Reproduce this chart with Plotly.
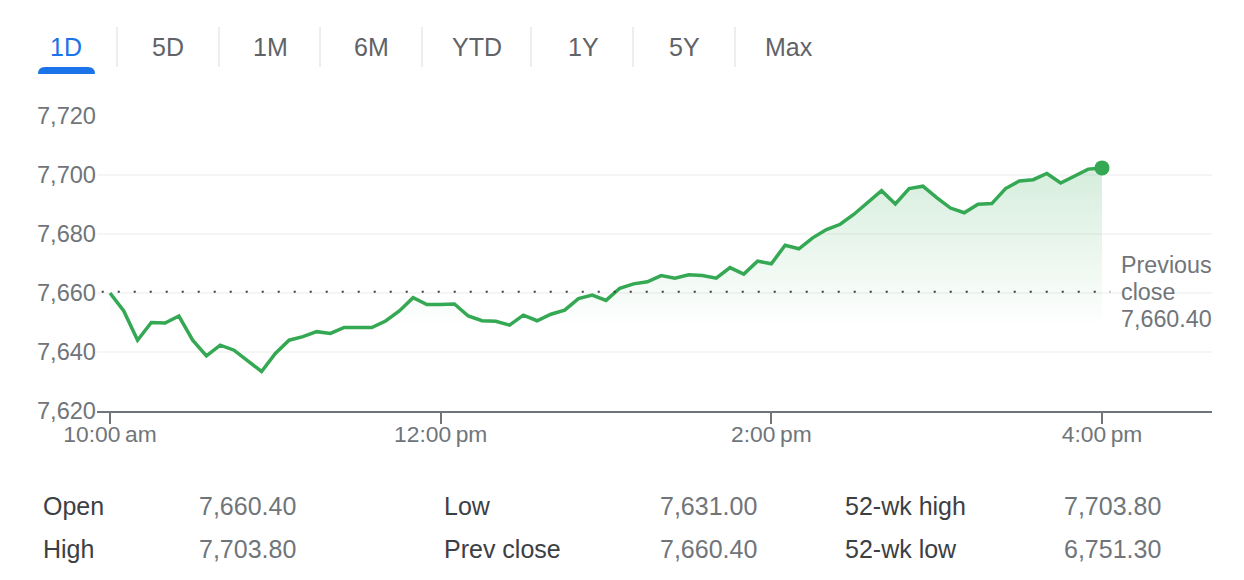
import plotly.graph_objects as go

# ---------- data ----------
minutes_after_open = list(range(0, 365, 5))
prices = [7660, 7653.9, 7644, 7650, 7649.8, 7652.2, 7644, 7638.7, 7642.3, 7640.6,
          7637, 7633.4, 7639.5, 7644, 7645.2, 7646.9, 7646.3, 7648.3, 7648.3, 7648.3,
          7650.5, 7653.9, 7658.4, 7656.1, 7656.1, 7656.3, 7652.2, 7650.6, 7650.4, 7649.1,
          7652.5, 7650.6, 7652.8, 7654.2, 7658.1, 7659.3, 7657.5, 7661.6, 7663.1, 7663.8,
          7665.9, 7665, 7666.2, 7665.9, 7665, 7668.6, 7666.4, 7670.8, 7669.9, 7676.2,
          7675, 7678.7, 7681.5, 7683.3, 7686.7, 7690.8, 7694.7, 7690.2, 7695.4, 7696.2,
          7692.3, 7688.8, 7687.2, 7690.1, 7690.3, 7695.4, 7698, 7698.4, 7700.5, 7697.3,
          7699.6, 7702, 7702.4]
prev_close = 7660.4
y_ticks = [7620, 7640, 7660, 7680, 7700, 7720]
y_tick_labels = ["7,620", "7,640", "7,660", "7,680", "7,700", "7,720"]
x_ticks = [0, 120, 240, 360]
x_tick_labels = ["10:00\u2009am", "12:00\u2009pm", "2:00\u2009pm", "4:00\u2009pm"]
tabs = ["1D", "5D", "1M", "6M", "YTD", "1Y", "5Y", "Max"]
stat_labels = ["Open", "High", "Low", "Prev close", "52-wk high", "52-wk low"]
stat_values = ["7,660.40", "7,703.80", "7,631.00", "7,660.40", "7,703.80", "6,751.30"]

# ---------- layout helpers (figure pixels to paper fractions) ----------
W, H = 1244, 580
L, R, T, B = 97, 32, 116, 169
def px(x): return (x - L) / (W - L - R)
def py(y): return 1 - (y - T) / (H - T - B)

FONT = "Liberation Sans"
GREEN = "#34a853"
GREY = "#70757a"
DARK = "#3c4043"

fig = go.Figure()

# baseline for the gradient area
fig.add_trace(go.Scatter(x=minutes_after_open, y=[y_ticks[0]] * len(prices), mode="lines",
                         line=dict(width=0, color="rgba(0,0,0,0)"), hoverinfo="skip",
                         showlegend=False))
fig.add_trace(go.Scatter(
    x=minutes_after_open, y=prices, mode="lines", fill="tonexty",
    line=dict(color=GREEN, width=3.5),
    fillgradient=dict(type="vertical", start=7702, stop=7648,
                      colorscale=[[0, "rgba(52,168,83,0.2)"], [1, "rgba(52,168,83,0)"]]),
    showlegend=False))
# previous close dotted line
fig.add_trace(go.Scatter(x=[-3, 363], y=[prev_close, prev_close], mode="lines",
                         line=dict(color="#3c4043", width=2, dash="2px,14px"),
                         showlegend=False, hoverinfo="skip"))
# end point
fig.add_trace(go.Scatter(x=minutes_after_open[-1:], y=prices[-1:], mode="markers",
                         marker=dict(color=GREEN, size=15), showlegend=False))

ann = []
def text(x, y, s, color, size=25, anchor="left", bg=None):
    ann.append(dict(x=px(x), y=py(y), xref="paper", yref="paper", text=s, showarrow=False,
                    xanchor=anchor, yanchor="middle", borderpad=0, borderwidth=0,
                    bgcolor=bg, font=dict(family=FONT, size=size, color=color)))

# tabs
tab_centres = [66, 168, 270, 371, 477, 583, 684, 789]
for i, (t, c) in enumerate(zip(tabs, tab_centres)):
    text(c, 46.5, t, "#1a73e8" if i == 0 else "#5f6368", anchor="center")

shapes = []
for d in [117, 219, 320, 422, 531, 633, 735]:
    shapes.append(dict(type="line", xref="paper", yref="paper", x0=px(d), x1=px(d),
                       y0=py(27), y1=py(67), line=dict(color="#dadce0", width=1)))
shapes.append(dict(type="path", xref="paper", yref="paper", fillcolor="#1a73e8", line=dict(width=0),
                   path=f"M {px(38)} {py(74)} Q {px(38)} {py(67)} {px(45)} {py(67)} "
                        f"L {px(88)} {py(67)} Q {px(95)} {py(67)} {px(95)} {py(74)} Z"))

# previous close label
for y, s in zip([265, 292, 319], ["Previous", "close", "7,660.40"]):
    text(1120.5, y, s, GREY, size=23.3, bg="white")

# statistics
label_pos = [(43, 507), (43, 549), (444, 507), (444, 549), (845, 507), (845, 549)]
value_pos = [(296, 507), (296, 549), (757, 507), (757, 549), (1161, 507), (1161, 549)]
for s, (x, y) in zip(stat_labels, label_pos):
    text(x, y - 0.5, s, DARK)
for s, (x, y) in zip(stat_values, value_pos):
    text(x, y - 0.5, s, GREY, anchor="right")

m_per_px = 120 / 330.67
fig.update_layout(
    width=W, height=H, autosize=False,
    margin=dict(l=L, r=R, t=T, b=B, pad=0),
    paper_bgcolor="white", plot_bgcolor="white",
    font=dict(family=FONT, color=GREY),
    annotations=ann, shapes=shapes, showlegend=False,
    xaxis=dict(range=[-13 * m_per_px, (1212 - 110) * m_per_px], tickvals=x_ticks, ticktext=x_tick_labels,
               showgrid=False, zeroline=False, showline=True, linecolor=GREY, linewidth=2,
               ticks="outside", ticklen=11, tickwidth=2, tickcolor=GREY, ticklabelstandoff=-9,
               tickfont=dict(size=22.8, color=GREY, family=FONT)),
    yaxis=dict(range=[7620, 7720], tickvals=y_ticks, ticktext=y_tick_labels,
               showgrid=True, gridcolor="#f5f5f5", gridwidth=2, zeroline=False, showline=False,
               ticks="", tickfont=dict(size=23.6, color=GREY, family=FONT)),
)
fig.write_html("out.html", config=dict(displayModeBar=False),
               post_script="document.body.style.margin='0';document.body.style.overflow='hidden';")
